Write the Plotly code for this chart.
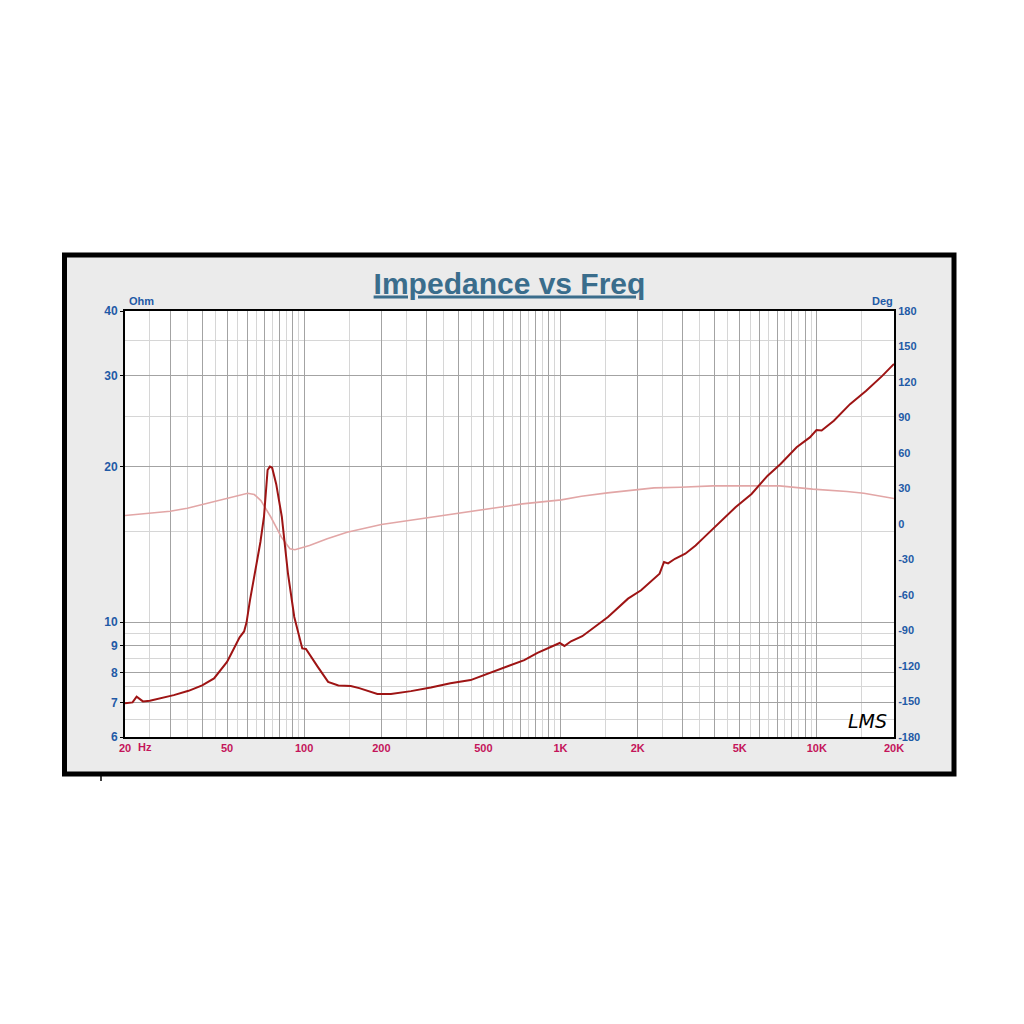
import plotly.graph_objects as go

# ---------------- data ----------------
imp_freq = [20, 21.4, 22.2, 23.5, 25, 27.6, 31, 35.4, 40, 44.5, 50, 52, 54, 56, 58.3,
            59.6, 61.4, 64.7, 67.5, 69.7, 72, 73.5, 75, 77.8, 81.8, 86.5, 91.5, 98.3,
            101.6, 113, 124, 136, 152, 164, 182, 193, 218, 261, 312, 372, 446, 503,
            603, 722, 813, 919, 993, 1036, 1099, 1216, 1532, 1834, 2062, 2435, 2534,
            2629, 2796, 3068, 3366, 3580, 3870, 4167, 4816, 5563, 6428, 7220, 8340,
            9390, 9970, 10440, 11650, 13470, 15580, 18000, 20000]
imp_ohm = [6.97, 7.0, 7.18, 7.03, 7.05, 7.13, 7.23, 7.37, 7.55, 7.79, 8.38, 8.7, 9.05,
           9.35, 9.6, 10.0, 11.0, 12.6, 14.3, 16.0, 19.7, 20.0, 19.9, 18.5, 16.0, 12.4,
           10.24, 8.9, 8.88, 8.2, 7.67, 7.55, 7.53, 7.46, 7.34, 7.27, 7.27, 7.36, 7.48,
           7.62, 7.73, 7.9, 8.17, 8.45, 8.73, 8.96, 9.12, 9.0, 9.19, 9.4, 10.24, 11.11,
           11.53, 12.42, 13.08, 13.0, 13.27, 13.57, 14.08, 14.5, 15.05, 15.62, 16.69,
           17.71, 19.21, 20.24, 21.8, 22.78, 23.54, 23.5, 24.54, 26.42, 28.03, 29.96, 31.6]

phase_freq = [20, 25, 30, 35, 40.9, 47.4, 55, 60.2, 63.9, 67.8, 74.2, 81.5, 88, 92,
              104.9, 123, 147, 166, 200, 294, 409, 526, 710, 1007, 1207, 1524, 2318,
              2930, 3932, 7160, 9630, 13110, 15250, 20000]
phase_deg = [7.2, 9.1, 10.8, 13.3, 17, 20.7, 24, 26, 24.9, 19.8, 5.7, -11.1, -20.9, -21.7,
             -18.1, -12.5, -6.9, -4.1, -0.4, 4.9, 9.4, 13.3, 17, 20.4, 23.4, 26.3, 30.5,
             31, 32.2, 32.2, 29.5, 27.5, 26, 21.5]

x_label_vals = [20, 50, 100, 200, 500, 1000, 2000, 5000, 10000, 20000]
x_label_text = ["20", "50", "100", "200", "500", "1K", "2K", "5K", "10K", "20K"]
ohm_label_vals = [6, 7, 8, 9, 10, 20, 30, 40]
deg_label_vals = [-180, -150, -120, -90, -60, -30, 0, 30, 60, 90, 120, 150, 180]

# grid positions (axis structure)
x_major = [n * 10 ** k for k in (1, 2, 3) for n in range(1, 10) if n * 10 ** k >= 20] + [10000, 20000]
x_minor = [(n + 0.5) * 10 ** k for k in (1, 2, 3) for n in range(1, 10) if (n + 0.5) * 10 ** k > 20] + [15000]
ohm_minor = [6.5, 7.5, 8.5, 9.5, 15, 25, 35]

x_ticktext = [x_label_text[x_label_vals.index(v)] if v in x_label_vals else "" for v in x_major]

# ---------------- figure ----------------
IMP_COLOR = "#9e1414"
PH_COLOR = "#e2a6a6"
BLUE = "#1f5aa6"
CRIMSON = "#c4145a"
FONT = "Liberation Sans"

fig = go.Figure()
fig.add_trace(go.Scatter(x=phase_freq, y=phase_deg, mode="lines", yaxis="y",
                         line=dict(color=PH_COLOR, width=1.6), showlegend=False,
                         hoverinfo="skip"))
fig.add_trace(go.Scatter(x=imp_freq, y=imp_ohm, mode="lines", yaxis="y2",
                         line=dict(color=IMP_COLOR, width=2), showlegend=False,
                         hoverinfo="skip"))

OFF = 8  # page body margin
L, R, T, B = 125 - OFF, 1024 - (894 - OFF), 311 - OFF, 1024 - (737 - OFF)
W = 1024 - L - R
H = 1024 - T - B


def px(xp):
    return (xp - OFF - L) / W


def py(yp):
    return (1024 - B - (yp - OFF)) / H


fig.update_layout(
    width=1024, height=1024,
    margin=dict(l=L, r=R, t=T, b=B, pad=0),
    paper_bgcolor="white",
    plot_bgcolor="white",
    font=dict(family=FONT),
    title=dict(text="<u>Impedance vs Freq</u>", x=0.5, xref="paper", xanchor="center",
               y=1 - (283 - OFF) / 1024, yref="container", yanchor="middle",
               font=dict(family=FONT, size=30, color="#3a6d8c", weight="bold")),
    xaxis=dict(type="log", range=[1.30103, 4.30103],
               tickmode="array", tickvals=x_major, ticktext=x_ticktext,
               showgrid=True, gridcolor="#a3a3a3", gridwidth=1,
               minor=dict(tickmode="array", tickvals=x_minor, showgrid=True,
                          gridcolor="#d6d6d6", gridwidth=1, ticks=""),
               showline=True, linecolor="black", linewidth=2, mirror=True,
               ticks="", tickfont=dict(family=FONT, size=11, color=CRIMSON, weight="bold"),
               zeroline=False),
    yaxis=dict(side="right", range=[-180, 180], tickmode="array", tickvals=deg_label_vals,
               ticktext=[str(v) for v in deg_label_vals],
               showgrid=False, zeroline=False, showline=True, linecolor="black",
               linewidth=2, ticks="",
               tickfont=dict(family=FONT, size=11, color=BLUE, weight="bold")),
    yaxis2=dict(type="log", side="left", overlaying="y", range=[0.778151, 1.60206],
                tickmode="array", tickvals=ohm_label_vals,
                ticktext=[str(v) for v in ohm_label_vals],
                showgrid=True, gridcolor="#a3a3a3", gridwidth=1,
                minor=dict(tickmode="array", tickvals=ohm_minor, showgrid=True,
                           gridcolor="#d6d6d6", gridwidth=1, ticks=""),
                showline=True, linecolor="black", linewidth=2,
                ticks="outside", ticklen=3, tickcolor="black", tickwidth=1,
                tickfont=dict(family=FONT, size=12, color=BLUE, weight="bold"),
                zeroline=False),
)

# outer panel frame
fig.add_shape(type="rect", xref="paper", yref="paper",
              x0=px(64.5), x1=px(954), y0=py(774), y1=py(255),
              fillcolor="#ebebeb", line=dict(color="black", width=5), layer="below")
# white plotting area on top of the panel fill
fig.add_shape(type="rect", xref="paper", yref="paper", x0=0, x1=1, y0=0, y1=1,
              fillcolor="white", line=dict(width=0), layer="below")
fig.add_shape(type="line", xref="paper", yref="paper",
              x0=px(101), x1=px(101), y0=py(776), y1=py(781),
              line=dict(color="black", width=1.5))

fig.add_annotation(text="Ohm", xref="paper", yref="paper", x=px(127), y=py(301),
                   xanchor="left", yanchor="middle", showarrow=False,
                   font=dict(family=FONT, size=11, color=BLUE, weight="bold"))
fig.add_annotation(text="Deg", xref="paper", yref="paper", x=px(895), y=py(301),
                   xanchor="right", yanchor="middle", showarrow=False,
                   font=dict(family=FONT, size=11, color=BLUE, weight="bold"))
fig.add_annotation(text="Hz", xref="paper", yref="paper", x=px(145), y=py(747),
                   xanchor="center", yanchor="middle", showarrow=False,
                   font=dict(family=FONT, size=11, color=CRIMSON, weight="bold"))
fig.add_annotation(text="<i>LMS</i>", xref="paper", yref="paper", x=px(867), y=py(721),
                   xanchor="center", yanchor="middle", showarrow=False,
                   font=dict(family="DejaVu Sans", size=19, color="black"))

fig.write_html("out.html")
